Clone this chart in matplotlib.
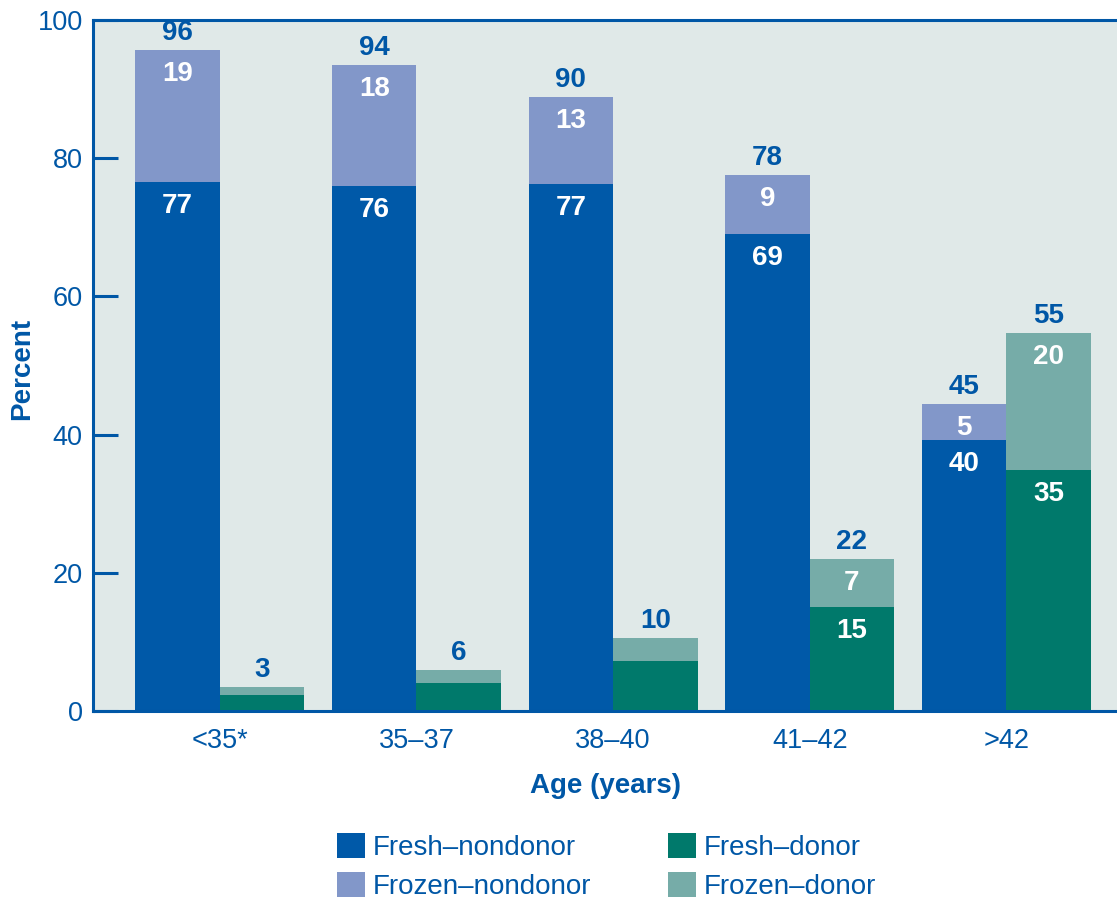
import numpy as np
import matplotlib.pyplot as plt

plt.rcParams['font.family'] = ['Liberation Sans', 'DejaVu Sans']

# 数据
age_groups = ['<35*', '35–37', '38–40', '41–42', '>42']
fresh_nondonor = [76.6, 76.0, 76.3, 69.0, 39.2]
frozen_nondonor = [19.1, 17.5, 12.6, 8.6, 5.2]
fresh_donor = [2.3, 4.1, 7.2, 15.1, 34.9]
frozen_donor = [1.2, 1.8, 3.4, 6.9, 19.8]

# 标注文字
lab_fresh_nondonor = ['77', '76', '77', '69', '40']
lab_frozen_nondonor = ['19', '18', '13', '9', '5']
lab_total_nondonor = ['96', '94', '90', '78', '45']
lab_fresh_donor = ['', '', '', '15', '35']
lab_frozen_donor = ['', '', '', '7', '20']
lab_total_donor = ['3', '6', '10', '22', '55']

blue = '#0057A6'
c_fn = '#0059A8'
c_zn = '#8297C9'
c_fd = '#00796B'
c_zd = '#76ACA8'

fig = plt.figure(figsize=(11.17, 9.02), dpi=100)
ax = fig.add_axes([0.0833, 0.2118, 0.9167, 0.766])
ax.set_facecolor('#E0E9E8')

x = np.arange(len(age_groups))
w = 0.43
xn = x - w / 2
xd = x + w / 2

ax.bar(xn, fresh_nondonor, w, color=c_fn, label='Fresh–nondonor')
ax.bar(xn, frozen_nondonor, w, bottom=fresh_nondonor, color=c_zn, label='Frozen–nondonor')
ax.bar(xd, fresh_donor, w, color=c_fd, label='Fresh–donor')
ax.bar(xd, frozen_donor, w, bottom=fresh_donor, color=c_zd, label='Frozen–donor')

tot_n = np.array(fresh_nondonor) + np.array(frozen_nondonor)
tot_d = np.array(fresh_donor) + np.array(frozen_donor)

def 标注(xs, ys, texts, color, dy, va):
    for xi, yi, t in zip(xs, ys, texts):
        if t:
            ax.annotate(t, (xi, yi), xytext=(0, dy), textcoords='offset points',
                        ha='center', va=va, color=color, fontsize=20, fontweight='bold')

标注(xn, fresh_nondonor, lab_fresh_nondonor, 'white', -8, 'top')
标注(xn, tot_n, lab_frozen_nondonor, 'white', -8, 'top')
标注(xn, tot_n, lab_total_nondonor, blue, 3, 'bottom')
标注(xd, fresh_donor, lab_fresh_donor, 'white', -8, 'top')
标注(xd, tot_d, lab_frozen_donor, 'white', -8, 'top')
标注(xd, tot_d, lab_total_donor, blue, 3, 'bottom')

ax.set_xlim(-0.645, 4.563)
ax.set_ylim(0, 100)
ax.set_yticks([0, 20, 40, 60, 80, 100])
ax.set_xticks(x)
ax.set_xticklabels(age_groups)
ax.tick_params(axis='y', direction='in', length=18, width=2.2, color=blue,
               labelcolor=blue, labelsize=19.5, pad=7.5)
ax.tick_params(axis='x', length=0, labelcolor=blue, labelsize=19.5, pad=12)
for s in ['left', 'top', 'bottom']:
    ax.spines[s].set_color(blue)
    ax.spines[s].set_linewidth(2.2)
ax.spines['right'].set_visible(False)

ax.set_ylabel('Percent', color=blue, fontsize=20, fontweight='bold')
ax.yaxis.set_label_coords(-0.0693, 0.495)
ax.yaxis.label.set_va('center')
ax.set_xlabel('Age (years)', color=blue, fontsize=20, fontweight='bold', labelpad=14)

h, l = ax.get_legend_handles_labels()
leg = fig.legend(h, l, ncol=2,
                 loc='upper left', bbox_to_anchor=(0.3017, 0.0765), frameon=False,
                 fontsize=20, handlelength=1.0, handleheight=1.0, handletextpad=0.3,
                 columnspacing=2.75, labelspacing=0.4, borderaxespad=0, borderpad=0)
for t in leg.get_texts():
    t.set_color(blue)

fig.savefig('out.png', dpi=100)
